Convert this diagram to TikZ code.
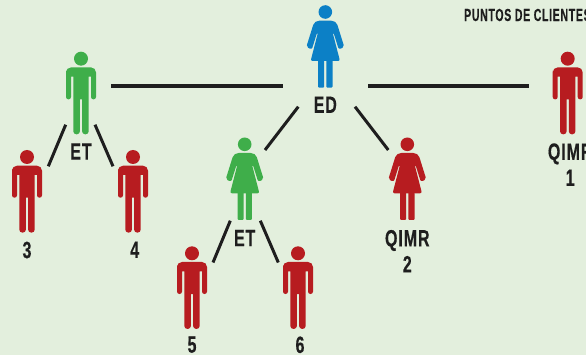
\documentclass[tikz,border=0pt]{standalone}
\usepackage{fontspec}
\setmainfont[FakeStretch=0.68,LetterSpace=4,BoldFeatures={FakeBold=0.4}]{Liberation Sans}
\newfontfamily\smallfont[FakeStretch=0.6,LetterSpace=4,BoldFeatures={FakeBold=0.3}]{Liberation Sans}
\usetikzlibrary{positioning}
\definecolor{bgpale}{HTML}{E3EFDD}
\definecolor{clientred}{HTML}{B71C20}
\definecolor{etgreen}{HTML}{3FAE4A}
\definecolor{edblue}{HTML}{0C80C6}
\definecolor{inkblack}{HTML}{1E1E1E}
\tikzset{
    %Define style for labels
    tag/.style={
             inner sep=0pt,
             align=center,
             text=inkblack,
             font=\fontsize{23.5}{26}\selectfont\bfseries},
    smalltag/.style={
             inner sep=0pt,
             text=inkblack,
             font=\fontsize{17.5}{18}\smallfont\bfseries},
    % Define connector style
    tieline/.style={
            draw=inkblack,
            line width=3pt},
    % Figures, origin at the centre of the head
    man/.pic={
        \fill (0,0) circle (7);
        \fill[rounded corners=2.4pt] (-15,14) [rounded corners=5pt] -- (-15,8.7) -- (15,8.7) [rounded corners=2.4pt] -- (15,40.7) -- (10,40.7) [rounded corners=0pt] -- (10,18) -- (7.7,18)
            [rounded corners=3pt] -- (7.7,75.6) -- (1.1,75.6) [rounded corners=0pt] -- (1.1,40.7) -- (-1.1,40.7) [rounded corners=3pt] -- (-1.1,75.6) -- (-7.7,75.6)
            [rounded corners=0pt] -- (-7.7,18) -- (-10,18) [rounded corners=2.4pt] -- (-10,40.7) -- (-15,40.7) -- cycle;
    },
    woman/.pic={
        \fill (0,0) circle (6.8);
        \fill[rounded corners=2pt] (-8,8.7) -- (8,8.7) -- (11.5,11) -- (19,35) -- (13.5,37.5) -- (8,20)
            -- (7.2,20) -- (14.7,49) -- (-14.7,49) -- (-7.2,20) -- (-8,20) -- (-13.5,37.5) -- (-19,35) -- (-11.5,11) -- cycle;
        \fill[rounded corners=1pt] (-7.2,48) -- (-1.1,48) -- (-1.1,75.7) -- (-7.2,75.7) -- cycle;
        \fill[rounded corners=1pt] (1.1,48) -- (7.2,48) -- (7.2,75.7) -- (1.1,75.7) -- cycle;
    }
}
\begin{document}
\begin{tikzpicture}[x=1pt, y=-1pt]
    \useasboundingbox[fill=bgpale] (0,0) rectangle (586,355);
    % head of every figure
    \coordinate (ed) at (325.3,12);
    \coordinate (etleft) at (81,58.7);
    \coordinate (etmid) at (244.7,144.3);
    \coordinate (qimrone) at (567.7,58.7);
    \coordinate (qimrtwo) at (407.3,144.3);
    \coordinate (three) at (27,157);
    \coordinate (four) at (133,157);
    \coordinate (five) at (192,253.3);
    \coordinate (six) at (298,253.3);
    \pic[edblue] at (ed) {woman};
    \pic[etgreen] at (etleft) {man};
    \pic[etgreen] at (etmid) {woman};
    \pic[clientred] at (qimrone) {man};
    \pic[clientred] at (qimrtwo) {woman};
    \pic[clientred] at (three) {man};
    \pic[clientred] at (four) {man};
    \pic[clientred] at (five) {man};
    \pic[clientred] at (six) {man};
    \node[tag, below=84.5pt of ed] (edlabel) {ED};
    \node[tag, below=84.5pt of etleft] (etleftlabel) {ET};
    \node[tag, below=85.5pt of etmid] (etmidlabel) {ET};
    \node[tag, below=84.5pt of qimrone, xshift=2.5pt] (qimronelabel) {QIMR\\1};
    \node[tag, below=85.5pt of qimrtwo] (qimrtwolabel) {QIMR\\2};
    \node[tag, below=84.5pt of three] (threelabel) {3};
    \node[tag, below=84.5pt of four, xshift=1.7pt] (fourlabel) {4};
    \node[tag, below=83pt of five] (fivelabel) {5};
    \node[tag, below=83pt of six, xshift=2pt] (sixlabel) {6};
    \node[smalltag, anchor=west] (puntos) at (464,15) {PUNTOS DE CLIENTES};
    % free ends of the connectors
    \coordinate (a1) at (111,86);
    \coordinate (a2) at (283,86);
    \coordinate (b1) at (368,86);
    \coordinate (b2) at (529,86);
    \coordinate (c1) at (298.3,106.7);
    \coordinate (c2) at (265,150);
    \coordinate (d1) at (355,106.7);
    \coordinate (d2) at (388.3,150);
    \coordinate (e1) at (65.7,124.7);
    \coordinate (e2) at (48.3,166.3);
    \coordinate (f1) at (95,124.7);
    \coordinate (f2) at (113,166.3);
    \coordinate (g1) at (230.3,220.7);
    \coordinate (g2) at (213,262.5);
    \coordinate (h1) at (260.3,220.7);
    \coordinate (h2) at (278.3,262.5);
    \path (a1) edge[tieline, line width=4pt] (a2)
    (b1) edge[tieline, line width=4pt] (b2)
    (c1) edge[tieline] (c2)
    (d1) edge[tieline] (d2)
    (e1) edge[tieline] (e2)
    (f1) edge[tieline] (f2)
    (g1) edge[tieline] (g2)
    (h1) edge[tieline] (h2);
\end{tikzpicture}
\end{document}
